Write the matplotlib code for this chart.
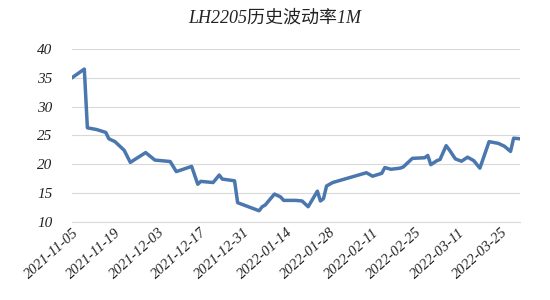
import matplotlib
matplotlib.use("Agg")
import matplotlib.pyplot as plt
import pandas as pd

title = "LH2205历史波动率1M"

dates = [
    "2021-11-05", "2021-11-09", "2021-11-10", "2021-11-13", "2021-11-16", "2021-11-17",
    "2021-11-19", "2021-11-22", "2021-11-24", "2021-11-29", "2021-12-02", "2021-12-07",
    "2021-12-09", "2021-12-14", "2021-12-16", "2021-12-17", "2021-12-21", "2021-12-23",
    "2021-12-24", "2021-12-28", "2021-12-29", "2022-01-05", "2022-01-06", "2022-01-07",
    "2022-01-10", "2022-01-12", "2022-01-13", "2022-01-17", "2022-01-19", "2022-01-21",
    "2022-01-24", "2022-01-25", "2022-01-26", "2022-01-27", "2022-01-29", "2022-02-09",
    "2022-02-11", "2022-02-14", "2022-02-15", "2022-02-17", "2022-02-20", "2022-02-21",
    "2022-02-24", "2022-02-28", "2022-03-01", "2022-03-02", "2022-03-04", "2022-03-05",
    "2022-03-07", "2022-03-08", "2022-03-10", "2022-03-12", "2022-03-14", "2022-03-16",
    "2022-03-18", "2022-03-21", "2022-03-22", "2022-03-24", "2022-03-26", "2022-03-28",
    "2022-03-29", "2022-03-31",
]
values = [
    35.0, 36.5, 26.3, 26.0, 25.5, 24.4,
    23.9, 22.4, 20.3, 22.0, 20.7, 20.45,
    18.7, 19.6, 16.5, 17.0, 16.8, 18.1,
    17.4, 17.1, 13.3, 11.9, 12.6, 12.9,
    14.8, 14.3, 13.7, 13.7, 13.6, 12.6,
    15.3, 13.6, 14.0, 16.2, 16.8, 18.5,
    17.9, 18.4, 19.4, 19.1, 19.3, 19.5,
    21.0, 21.1, 21.5, 19.9, 20.6, 20.8,
    23.2, 22.5, 20.9, 20.5, 21.2, 20.6,
    19.3, 23.9, 23.8, 23.6, 23.1, 22.2,
    24.5, 24.4,
]
tick_dates = [
    "2021-11-05", "2021-11-19", "2021-12-03", "2021-12-17", "2021-12-31",
    "2022-01-14", "2022-01-28", "2022-02-11", "2022-02-25", "2022-03-11", "2022-03-25",
]
y_ticks = [10, 15, 20, 25, 30, 35, 40]

x = pd.to_datetime(dates)
xt = pd.to_datetime(tick_dates)

fig = plt.figure(figsize=(5.5, 3.0), dpi=100)
ax = fig.add_axes([0.131, 0.261, 0.814, 0.576])
ax.plot(x, values, color="#4a77ad", linewidth=2.5, solid_joinstyle="round")
ax.set_ylim(10, 40)
ax.set_xlim(pd.Timestamp("2021-11-05"), pd.Timestamp("2022-03-31"))
ax.set_yticks(y_ticks)
ax.set_xticks(xt)
ax.set_xticklabels([d.strftime("%Y-%m-%d") for d in xt])
ax.grid(axis="y", color="#d9d9d9", linewidth=0.8)
ax.set_axisbelow(True)
for s in ["top", "right", "left"]:
    ax.spines[s].set_visible(False)
ax.spines["bottom"].set_color("#d9d9d9")
ax.tick_params(axis="both", length=0, colors="#222222")
ax.tick_params(axis="y", pad=14)
ax.tick_params(axis="x", pad=3)
for lab in ax.get_yticklabels():
    lab.set_fontfamily(["Liberation Serif", "DejaVu Serif"])
    lab.set_fontstyle("italic")
    lab.set_fontsize(11)
for lab in ax.get_xticklabels():
    lab.set_fontfamily(["Liberation Serif", "DejaVu Serif"])
    lab.set_fontstyle("italic")
    lab.set_fontsize(10.5)
    lab.set_rotation(42)
    lab.set_ha("right")
    lab.set_rotation_mode("anchor")

fig.text(0.5, 0.94, title, ha="center", va="center", fontsize=13,
         fontstyle="italic", family=["Liberation Serif", "Noto Sans CJK SC"],
         color="#222222")

fig.savefig("out.png", dpi=100, facecolor="white")
